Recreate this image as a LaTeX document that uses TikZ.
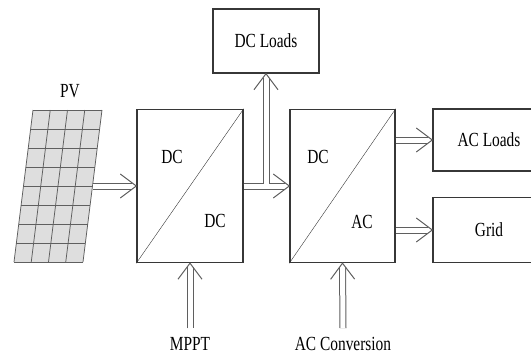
\documentclass[tikz,border=0pt]{standalone}
\usepackage{fontspec}
\setmainfont{Liberation Serif}[FakeStretch=0.77]
\usetikzlibrary{calc}
\definecolor{framegray}{RGB}{55,55,55}
\definecolor{cellgray}{RGB}{222,222,222}
\definecolor{arrowgray}{RGB}{95,95,95}
% hollow double arrow from #1 to #2
\newcommand{\flow}[2]{%
  \draw [dbl] (#1) -- ($(#2)!4pt!(#1)$);
  \draw [headline] ($($(#2)!16pt!(#1)$)!12pt!90:(#2)$) -- (#2)
    -- ($($(#2)!16pt!(#1)$)!12pt!-90:(#2)$);}

\begin{document}
\begin{tikzpicture}[x=1pt,y=-1pt,font=\fontsize{20}{23}\selectfont,
  block/.style={draw=framegray,line width=1.4pt,inner sep=0pt,minimum width=#1},
  tag/.style={inner sep=0pt},
  dbl/.style={draw=arrowgray,line width=1pt,double=white,double distance=5pt},
  headline/.style={draw=arrowgray,line width=1pt}]
\clip (0,0) rectangle (531,356);
% PV panel
\coordinate (A) at (33,110);
\coordinate (B) at (102,110);
\coordinate (C) at (83,262);
\coordinate (D) at (14,262);
\fill [cellgray] (A)--(B)--(C)--(D)--cycle;
\foreach \i in {0,...,8}
  \draw [framegray!80,thick] ($(A)!\i/8!(D)$) -- ($(B)!\i/8!(C)$);
\foreach \j in {0,...,4}
  \draw [framegray!80,thick] ($(A)!\j/4!(B)$) -- ($(D)!\j/4!(C)$);
\node [tag] (pvlabel) at (70,91) {PV};
\coordinate (pvout) at (92.5,186);
% converters
\node [block=106pt,minimum height=153pt] (conv1) at (190,186) {};
\draw [framegray,thin] (conv1.south west) -- (conv1.north east);
\node [tag] (dcin) at (172,157) {DC};
\node [tag] (dcout) at (215,221) {DC};
\node [block=105pt,minimum height=153pt] (conv2) at (342.5,186) {};
\draw [framegray,thin] (conv2.south west) -- (conv2.north east);
\node [tag] (dcin2) at (318,157) {DC};
\node [tag] (acout) at (362,222) {AC};
% loads
\node [block=106pt,minimum height=64pt] (dcload) at (266,41) {DC Loads};
\node [block=112pt,minimum height=62pt] (acload) at (489,140) {AC Loads};
\node [block=112pt,minimum height=65pt] (grid) at (489,230) {Grid};
\node [tag] (mppt) at (190,344) {MPPT};
\node [tag] (acconv) at (343,344) {AC Conversion};
% arrows
\coordinate (tap) at (266,183.5);
\coordinate (acfrom) at (conv2.east |- acload.west);
\coordinate (gridfrom) at (conv2.east |- grid.west);
\coordinate (mpptin) at ($(mppt.north)+(0,-9)$);
\coordinate (acconvin) at ($(acconv.north)+(0,-9)$);
\flow{pvout}{conv1.west}
\flow{conv1.east}{conv2.west}
\flow{tap}{dcload.south}
\flow{acfrom}{acload.west}
\flow{gridfrom}{grid.west}
\flow{mpptin}{conv1.south}
\flow{acconvin}{conv2.south}
\end{tikzpicture}
\end{document}
